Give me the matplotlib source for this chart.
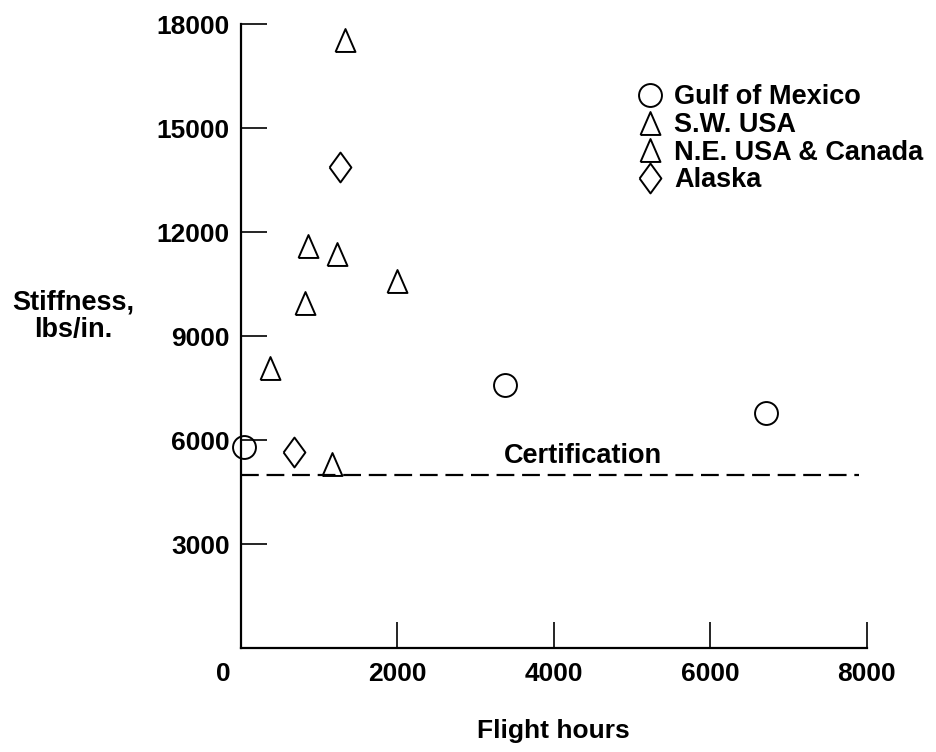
import matplotlib.pyplot as plt
import matplotlib.transforms as mtransforms

plt.rcParams['font.family'] = ['Liberation Sans', 'DejaVu Sans']
plt.rcParams['font.weight'] = 'bold'

# Data
gulf_hours = [40, 3380, 6720]
gulf_stiff = [5800, 7600, 6770]

sw_hours = [1330, 860, 1230, 2000]
sw_stiff = [17550, 11600, 11370, 10600]

ne_hours = [820, 370, 1160]
ne_stiff = [9950, 8080, 5300]

alaska_hours = [1260, 680]
alaska_stiff = [13880, 5660]

cert_level = 5000
cert_range = [0, 7900]

x_ticks = [0, 2000, 4000, 6000, 8000]
y_ticks = [3000, 6000, 9000, 12000, 15000, 18000]

# custom marker shapes (taller than wide, like the original)
tri = [(-0.87, -1), (0, 1), (0.87, -1), (-0.87, -1)]
dia = [(-0.73, 0), (0, 1), (0.73, 0), (0, -1), (-0.73, 0)]

fig = plt.figure(figsize=(9.37, 7.52), dpi=100)
ax = fig.add_axes([0.2572, 0.1383, 0.6676, 0.8297])

mstyle = dict(linestyle='none', markerfacecolor='none', markeredgecolor='black',
              markeredgewidth=1.4, clip_on=False)
ax.plot(gulf_hours, gulf_stiff, marker='o', markersize=16.5, label='Gulf of Mexico', **mstyle)
ax.plot(sw_hours, sw_stiff, marker=tri, markersize=16.5, label='S.W. USA', **mstyle)
ax.plot(ne_hours, ne_stiff, marker=tri, markersize=16.5, label='N.E. USA & Canada', **mstyle)
ax.plot(alaska_hours, alaska_stiff, marker=dia, markersize=21.5, label='Alaska', **mstyle)

# certification line
ax.plot(cert_range, [cert_level, cert_level], color='black', linewidth=1.6,
        dashes=(8, 3.5))
ax.text(4370, 5540, 'Certification', fontsize=19.5, fontweight='bold',
        ha='center', va='center')

ax.set_xlim(0, 8000)
ax.set_ylim(0, 18000)
ax.set_xticks(x_ticks)
ax.set_yticks(y_ticks)
ax.tick_params(direction='in', length=19, width=1.2, labelsize=19, pad=8)
ax.tick_params(axis='x', pad=10)
for lab in ax.get_xticklabels() + ax.get_yticklabels():
    lab.set_fontweight('bold')

# the "0" label sits left of the axis corner
off = mtransforms.ScaledTranslation(-18 / 100, 0, fig.dpi_scale_trans)
xl = ax.get_xticklabels()[0]
xl.set_transform(xl.get_transform() + off)

ax.spines['top'].set_visible(False)
ax.spines['right'].set_visible(False)
ax.spines['left'].set_linewidth(1.6)
ax.spines['bottom'].set_linewidth(1.6)

ax.set_xlabel('Flight hours', fontsize=19, fontweight='bold', labelpad=24)
ax.set_ylabel('Stiffness,\nlbs/in.', fontsize=19.5, fontweight='bold',
              rotation=0, ha='center', va='center', linespacing=1.05)
ax.yaxis.set_label_coords(-0.2686, 0.532)

leg = ax.legend(loc='upper left', bbox_to_anchor=(0.612, 0.925), frameon=False,
                prop={'weight': 'bold', 'size': 19.5}, labelspacing=0.06,
                handletextpad=0.45, handlelength=0.9, borderpad=0, markerscale=1.0)

fig.savefig('out.png', dpi=100)
